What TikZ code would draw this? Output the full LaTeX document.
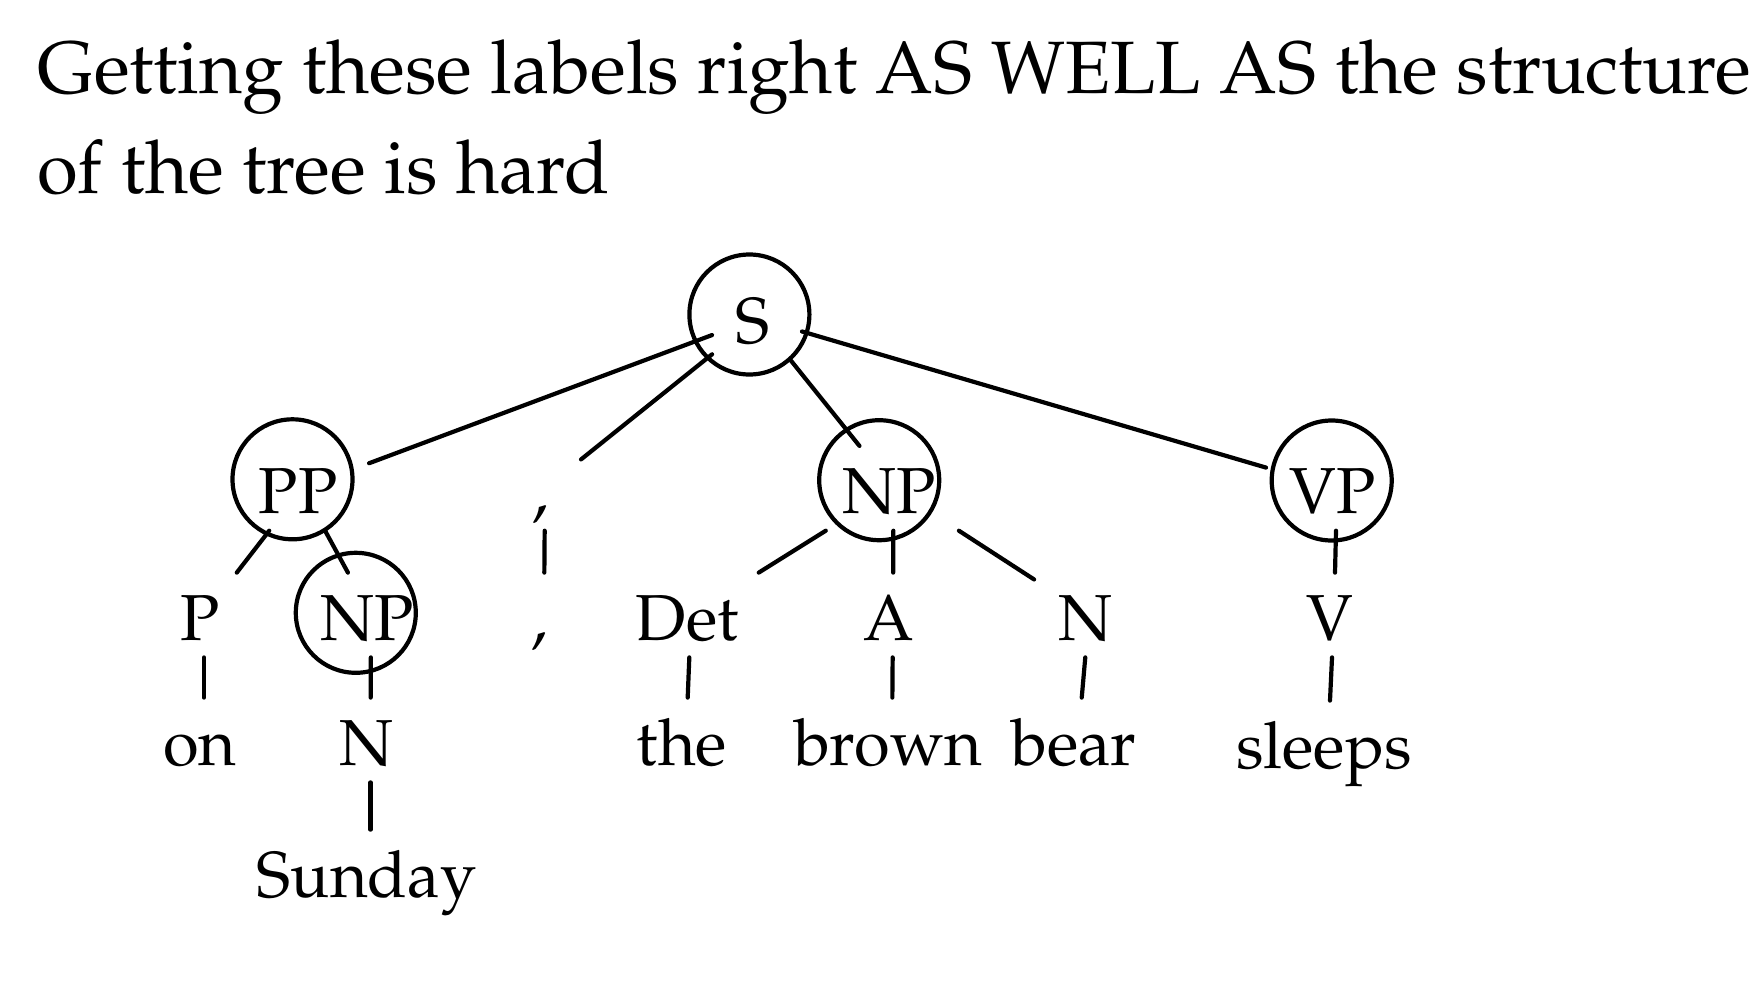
\documentclass[tikz,border=0pt]{standalone}
\usepackage[T1]{fontenc}
\usepackage{mathpazo}
\begin{document}
\begin{tikzpicture}[x=0.5pt, y=-0.5pt,
  lab/.style={font=\fontsize{32.5}{39}\selectfont, anchor=base, inner xsep=11.75pt, inner ysep=8.5pt,
              text height=25pt, text depth=0pt, execute at end node={\kern4pt}},
  ttl/.style={font=\fontsize{37.1}{50}\selectfont, anchor=base west, inner sep=0pt},
  edge/.style={line width=2.1pt, line cap=round},
  ring/.style={circle, draw, line width=2.1pt, minimum size=60pt, inner sep=0pt}]
\fill[white] (0,0) rectangle (1760,980);
\useasboundingbox (0,0) rectangle (1760,980);
% title
\node[ttl] (t1) at (37,93) {Getting these labels right AS WELL AS the structure};
\node[ttl] (t2) at (37,193) {of the tree is hard};
% level 1
\node[lab] (S) at (757,343.3) {S};
% level 2
\node[lab] (PP) at (302,513.3) {PP};
\node[lab] (c2) at (545,513.3) {,};
\node[lab] (NP) at (893.5,513.3) {NP};
\node[lab] (VP) at (1337,513.3) {VP};
% level 3
\node[lab] (P) at (204,640) {P};
\node[lab] (NPs) at (371,640) {NP};
\node[lab] (c3) at (544,640) {,};
\node[lab] (Det) at (691,640) {Det};
\node[lab] (A) at (893,640) {A};
\node[lab] (N1) at (1089,640) {N};
\node[lab] (V) at (1334,640) {V};
% level 4
\node[lab] (on) at (204,765) {on};
\node[lab] (N2) at (370.5,765) {N};
\node[lab] (the) at (686,765) {the};
\node[lab] (brown) at (892,765) {brown};
\node[lab] (bear) at (1078,765) {bear};
\node[lab] (sleeps) at (1328,768) {sleeps};
% level 5
\node[lab] (Sunday) at (370.5,897) {Sunday};
% circles
\node[ring] (rS) at (749.4,314.5) {};
\node[ring] (rPP) at (292.5,479.3) {};
\node[ring] (rNP) at (879.2,480.2) {};
\node[ring] (rVP) at (1331.7,480.5) {};
\node[ring] (rNPs) at (355.8,612.8) {};
% edges
\draw[edge] (S) -- (PP);
\draw[edge] (S) -- (c2);
\draw[edge] (S) -- (NP);
\draw[edge] (S) -- (VP);
\draw[edge] (PP) -- (P);
\draw[edge] (PP) -- (NPs);
\draw[edge] (c2) -- (c3);
\draw[edge] (NP) -- (Det);
\draw[edge] (NP) -- (A);
\draw[edge] (NP) -- (N1);
\draw[edge] (VP) -- (V);
\draw[edge] (P) -- (on);
\draw[edge] (NPs) -- (N2);
\draw[edge] (Det) -- (the);
\draw[edge] (A) -- (brown);
\draw[edge] (N1) -- (bear);
\draw[edge] (V) -- (sleeps);
\draw[edge] (N2) -- (Sunday);
\end{tikzpicture}
\end{document}
